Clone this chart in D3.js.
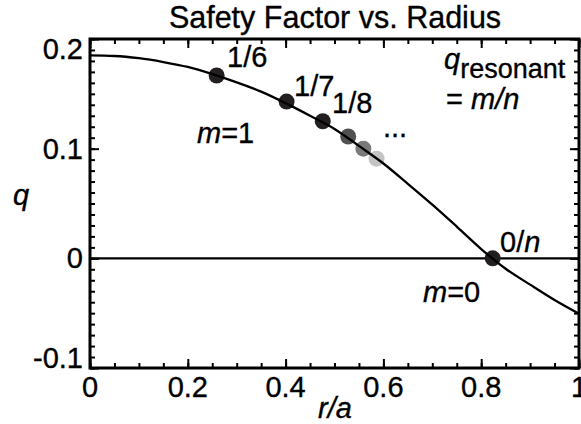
<!DOCTYPE html>
<html>
<head>
<meta charset="utf-8">
<script src="https://cdn.jsdelivr.net/npm/d3@7"></script>
<style>
  html, body { margin: 0; padding: 0; background: #fff; }
  svg { display: block; font-family: "Liberation Sans", Arial, sans-serif; }
  svg text { stroke: #000; stroke-width: 0.35px; }
</style>
</head>
<body>
<svg id="chart" width="581" height="424"></svg>
<script>
// q profile
const radius = [0, 0.05, 0.1, 0.15, 0.2, 0.25, 0.3, 0.35, 0.4, 0.45, 0.5, 0.55, 0.6, 0.65, 0.7, 0.75, 0.8, 0.85, 0.9, 0.95, 1];
const qValues = [0.185, 0.1845, 0.1825, 0.179, 0.1745, 0.168, 0.1605, 0.152, 0.1415, 0.130, 0.118, 0.1025, 0.0865, 0.068, 0.049, 0.029, 0.0085, -0.0095, -0.024, -0.038, -0.0505];

// resonant surfaces
const resR = [0.586, 0.559, 0.528, 0.476, 0.402, 0.259, 0.8235];
const resQ = [0.0909, 0.1, 0.1111, 0.125, 0.1429, 0.1667, 0];
const resColor = ['#c4c4c4', '#7a7a7a', '#505050', '#231f20', '#231f20', '#231f20', '#231f20'];

const xMajor = [0, 0.2, 0.4, 0.6, 0.8, 1];
const xMinor = d3.range(0, 1.0001, 0.05);
const yMajor = [-0.1, 0, 0.1, 0.2];
const yMinor = d3.range(-0.1, 0.2001, 0.01);

const plotL = 90, plotR = 579, plotT = 39, plotB = 368;
const x = d3.scaleLinear().domain([0, 1]).range([plotL, plotR]);
const y = d3.scaleLinear().domain([-0.1, 0.2]).range([plotB, plotT]);

const svg = d3.select('#chart');

// ticks, all pointing inward
function ticks(axis, vals, size) {
  return axis.tickValues(vals).tickSize(size).tickFormat('');
}
const tickGroups = [
  [d3.axisBottom(x), xMinor, -5, `translate(0,${plotB})`],
  [d3.axisBottom(x), xMajor, -9, `translate(0,${plotB})`],
  [d3.axisTop(x), xMinor, -5, `translate(0,${plotT})`],
  [d3.axisTop(x), xMajor, -9, `translate(0,${plotT})`],
  [d3.axisLeft(y), yMinor, -5, `translate(${plotL},0)`],
  [d3.axisLeft(y), yMajor, -9, `translate(${plotL},0)`],
  [d3.axisRight(y), yMinor, -5, `translate(${plotR},0)`],
  [d3.axisRight(y), yMajor, -9, `translate(${plotR},0)`]
];
tickGroups.forEach(([axis, vals, size, tr]) => {
  const g = svg.append('g').attr('transform', tr).call(ticks(axis, vals, size));
  g.select('.domain').remove();
  g.selectAll('line').attr('stroke', '#000').attr('stroke-width', 2);
});

// tick labels
svg.append('g').selectAll('text').data(xMajor).enter().append('text')
  .attr('x', d => x(d)).attr('y', 397)
  .attr('text-anchor', 'middle').attr('font-size', 29)
  .text(d => d3.format('')(d));

svg.append('g').selectAll('text').data(yMajor).enter().append('text')
  .attr('x', 83)
  .attr('y', d => Math.min(Math.max(y(d), plotT + 10), plotB - 10) + 10)
  .attr('text-anchor', 'end').attr('font-size', 29)
  .text(d => d === -0.1 ? '-0.1' : d3.format('')(d));

// zero line
svg.append('line')
  .attr('x1', x(0)).attr('x2', x(1)).attr('y1', y(0)).attr('y2', y(0))
  .attr('stroke', '#000').attr('stroke-width', 2.2);

// resonant points
svg.append('g').selectAll('circle').data(resR).enter().append('circle')
  .attr('cx', d => x(d)).attr('cy', (d, i) => y(resQ[i]))
  .attr('r', 8).attr('fill', (d, i) => resColor[i]);

// q profile
const line = d3.line().x(d => x(d[0])).y(d => y(d[1])).curve(d3.curveMonotoneX);
svg.append('path')
  .datum(radius.map((r, i) => [r, qValues[i]]))
  .attr('d', line).attr('fill', 'none')
  .attr('stroke', '#000').attr('stroke-width', 2.3);

// frame
svg.append('rect')
  .attr('x', plotL).attr('y', plotT).attr('width', plotR - plotL).attr('height', plotB - plotT)
  .attr('fill', 'none').attr('stroke', '#000').attr('stroke-width', 3);

// titles
svg.append('text').attr('x', 335).attr('y', 28).attr('text-anchor', 'middle')
  .attr('font-size', 30.5).text('Safety Factor vs. Radius');
svg.append('text').attr('x', 335).attr('y', 418).attr('text-anchor', 'middle')
  .attr('font-size', 29).attr('font-style', 'italic').text('r/a');
svg.append('text').attr('x', 21).attr('y', 205).attr('text-anchor', 'middle')
  .attr('font-size', 29).attr('font-style', 'italic').text('q');

// annotations
function label(xp, yp, parts) {
  const t = svg.append('text').attr('x', xp).attr('y', yp).attr('font-size', 29);
  parts.forEach(p => {
    const s = t.append('tspan').text(p[0]);
    if (p[1]) s.attr('font-style', 'italic');
    if (p[2]) s.attr('dy', p[2]).attr('font-size', 27);
  });
  return t;
}
label(227, 67, [['1/6']]);
label(294, 96, [['1/7']]);
label(332, 113, [['1/8']]);
label(383, 137, [['...']]);
label(197, 143, [['m', true], ['=1']]);
label(423, 302, [['m', true], ['=0']]);
label(500, 252, [['0/'], ['n', true]]);
label(444, 69, [['q', true], ['resonant', false, 9]]);
label(446, 109, [['= '], ['m/n', true]]);
</script>
</body>
</html>
